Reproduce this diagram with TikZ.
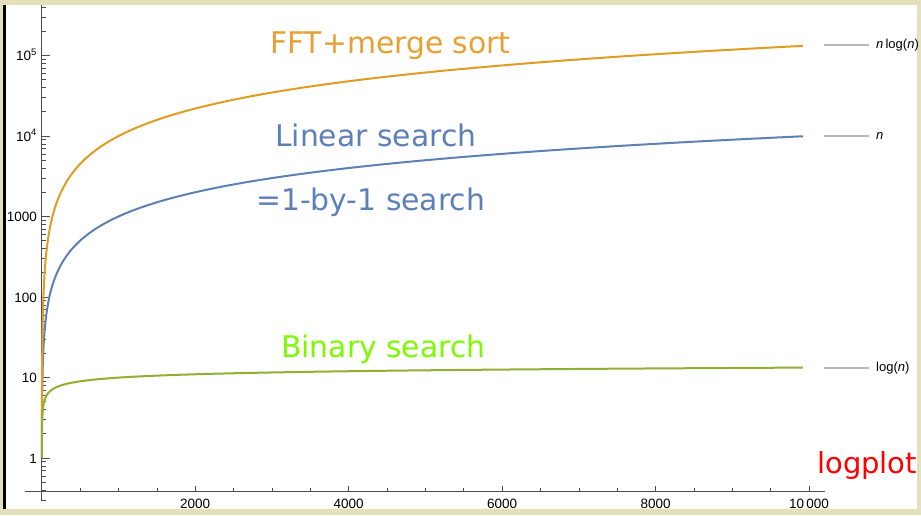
\documentclass[tikz,border=0pt]{standalone}
\usepackage{fontspec}
\setmainfont{DejaVu Sans}
\newfontfamily\axisfont{Liberation Sans}
\usetikzlibrary{positioning}
\definecolor{plotblue}{rgb}{0.368,0.507,0.710}
\definecolor{plotorange}{rgb}{0.881,0.611,0.142}
\definecolor{plotgreen}{rgb}{0.560,0.692,0.195}
\definecolor{textorange}{RGB}{232,160,50}
\definecolor{textblue}{RGB}{93,128,186}
\definecolor{textgreen}{RGB}{125,250,0}
\definecolor{framebeige}{RGB}{228,224,188}
\tikzset{curve label/.style={font=\fontsize{29.8}{35}\selectfont,anchor=base west,inner sep=0pt},
	tick label/.style={font=\axisfont\fontsize{13.5}{16}\selectfont,inner sep=0pt},
	legend label/.style={font=\axisfont\fontsize{13}{15}\selectfont,anchor=west,inner sep=0pt},
	curve/.style={line width=2pt,line join=round},
	legend line/.style={black!28,line width=1.3pt},
	axis line/.style={black!70,line width=0.6pt},
}

\begin{document}
\begin{tikzpicture}[x=1pt,y=-1pt]
	\fill[framebeige] (0,0) rectangle (921,515);
	\fill[white] (6,5) rectangle (917,509);
	\draw[line width=3pt] (4,5) -- (4,509);
	
	% axes
	\draw[axis line] (41.7,5) -- (41.7,501);
	\draw[axis line] (25,491.7) -- (825,491.7);
	\foreach \k in {0,...,5}
	\draw[axis line] (41.7,{458-80.5*\k}) -- ++(8,0);
	\foreach \k in {0,...,4}
	\foreach \m in {2,...,9}
	\draw[axis line] (41.7,{458-80.5*(\k+log10(\m))}) -- ++(4,0);
	\foreach \m in {3,...,9}
	\draw[axis line] (41.7,{458-80.5*(log10(\m)-1)}) -- ++(4,0);
	\foreach \m in {2,3,4}
	\draw[axis line] (41.7,{458-80.5*(5+log10(\m))}) -- ++(4,0);
	\foreach \n in {500,1000,...,9500}
	\draw[axis line] ({41.7+0.07673*\n},491.7) -- ++(0,-4);
	\foreach \n/\lbl in {2000/2000,4000/4000,6000/6000,8000/8000,10000/10\,000}{
		\draw[axis line] ({41.7+0.07673*\n},491.7) -- ++(0,-6);
		\node[tick label,anchor=base] (x\n) at ({41.7+0.07673*\n},508) {\lbl};
	}
	\foreach \k/\lbl in {0/1,1/10,2/100,3/1000,4/10\textsuperscript{4},5/10\textsuperscript{5}}
	\node[tick label,anchor=base east] (y\k) at (37,{463-80.5*\k}) {\lbl};
	
	% curves
	\draw[curve,plotblue] plot[domain=0:4,samples=300,variable=\t]
	({41.7+0.07673*pow(10,\t)},{458-80.5*\t});
	\draw[curve,plotorange] plot[domain=0.30103:4,samples=300,variable=\t]
	({41.7+0.07673*pow(10,\t)},{458-80.5*(\t+log10(\t)+0.52139)});
	\draw[curve,plotgreen] plot[domain=0.30103:4,samples=300,variable=\t]
	({41.7+0.07673*pow(10,\t)},{458-80.5*log10(3.32193*\t)});
	
	% legend
	\coordinate (nlogn a) at (824,45);
	\coordinate (nlogn b) at (869,45);
	\coordinate (n a) at (824,136);
	\coordinate (n b) at (869,136);
	\coordinate (logn a) at (824,368);
	\coordinate (logn b) at (869,368);
	\draw[legend line] (nlogn a) -- (nlogn b);
	\draw[legend line] (n a) -- (n b);
	\draw[legend line] (logn a) -- (logn b);
	\node[legend label,right=7pt of nlogn b] (nlogn label) {\textit{n}\,log(\textit{n})};
	\node[legend label,right=7pt of n b] (n label) {\textit{n}};
	\node[legend label,right=7pt of logn b] (logn label) {log(\textit{n})};
	
	\node[curve label,textorange] (fft) at (270,53) {FFT+merge sort};
	\node[curve label,textblue] (linear) at (275,146) {Linear search};
	\node[curve label,textblue] (onebyone) at (256,210) {=1-by-1 search};
	\node[curve label,textgreen] (binary) at (281,357) {Binary search};
	\node[curve label,red,font=\fontsize{29}{34}\selectfont] (logplot) at (817,473) {logplot};
\end{tikzpicture}
\end{document}
